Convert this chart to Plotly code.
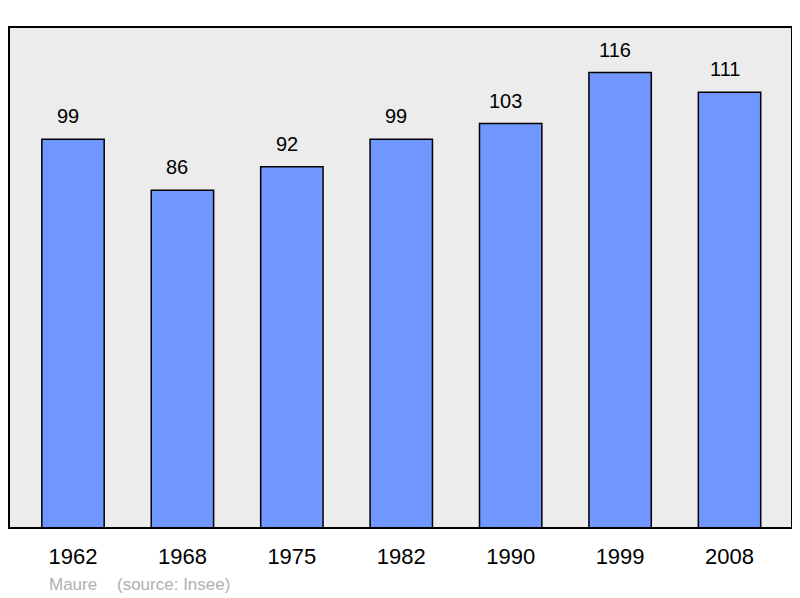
import plotly.graph_objects as go

years = ['1962', '1968', '1975', '1982', '1990', '1999', '2008']
population = [99, 86, 92, 99, 103, 116, 111]
commune = 'Maure'
source = '(source: Insee)'

# the page body keeps its default 8px margin, so the figure is shifted by 8px
W, H = 792, 590
L, R, T, B = 1, 8, 19, 70
pw, ph = W - L - R, H - T - B

fig = go.Figure(go.Bar(
    x=list(range(len(years))),
    y=population,
    width=0.57,
    marker=dict(color='#7096ff', line=dict(color='#000000', width=1.5)),
    hoverinfo='skip'
))

# value labels above each bar (a little left of centre, as in the original)
for i, v in enumerate(population):
    fig.add_annotation(x=i, y=v, text=str(v), showarrow=False, yanchor='bottom',
                       yshift=10, xshift=-5, font=dict(size=20, color='#000000'))

# caption below the chart
cap_y = (520 - 576) / ph
fig.add_annotation(x=(39 - L) / pw, y=cap_y, xref='paper', yref='paper',
                   text=commune, showarrow=False, xanchor='left', yanchor='middle',
                   font=dict(size=17, color='#b0b0b0'))
fig.add_annotation(x=(107 - L) / pw, y=cap_y, xref='paper', yref='paper',
                   text=source, showarrow=False, xanchor='left', yanchor='middle',
                   font=dict(size=17, color='#b0b0b0'))

# frame around the plot area
fig.add_shape(type='rect', xref='paper', yref='paper', x0=0, y0=0, x1=1, y1=1,
              line=dict(color='#000000', width=2), layer='above')

fig.update_layout(
    width=W, height=H,
    margin=dict(l=L, r=R, t=T, b=B),
    paper_bgcolor='#ffffff',
    plot_bgcolor='#ececec',
    font=dict(family='Liberation Sans, Arial, sans-serif', color='#000000'),
    showlegend=False,
    xaxis=dict(range=[-0.585, 6.571], tickmode='array', tickvals=list(range(len(years))),
               ticktext=years, ticks='outside', ticklen=9, tickcolor='rgba(0,0,0,0)',
               tickfont=dict(size=22), showgrid=False, zeroline=False, fixedrange=True),
    yaxis=dict(range=[0, 127.6], showticklabels=False, showgrid=False, zeroline=False,
               fixedrange=True),
)

fig.write_html('out.html')
